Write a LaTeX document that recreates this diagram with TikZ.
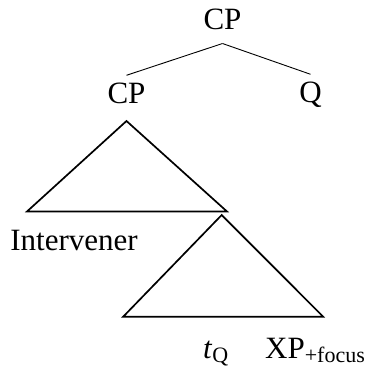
\documentclass[tikz,border=0pt]{standalone}
\usepackage{fontspec}
\setmainfont{Liberation Serif}
\usepackage{tikz}
\usetikzlibrary{calc}
\tikzset{
    lbl/.style={font=\fontsize{31bp}{36bp}\selectfont, inner sep=0pt, anchor=base},
    branch/.style={line width=0.9bp},
    tri/.style={line width=1.7bp, line join=miter}
}
\newcommand{\subtxt}[1]{\raisebox{-4bp}{\fontsize{22bp}{24bp}\selectfont #1}}

\begin{document}
\begin{tikzpicture}[x=1bp, y=-1bp]
                    \useasboundingbox (0,0) rectangle (368,370);
                    % Upper tree
                    \node[lbl] (cptop) at (222.5,29) {CP};
                    \node[lbl] (cplow) at (126.5,103) {CP};
                    \node[lbl] (q) at (310.5,102) {Q};
                    \draw[branch] ([yshift=-14bp]cptop.south) -- ([yshift=7bp]cplow.north);
                    \draw[branch] ([yshift=-14bp]cptop.south) -- ([yshift=7bp]q.north);

                    % Triangle under lower CP
                    \coordinate (apexA) at ([yshift=-18bp]cplow.base);
                    \draw[tri] (apexA) -- ++(-99.5,90.5) -- ++(200,0) -- cycle;
                    \node[lbl] (interv) at (74,250) {Intervener};

                    % Embedded triangle
                    \coordinate (apexB) at (221.7,215);
                    \draw[tri] (apexB) -- ++(-98.5,101.7) -- ++(200,0) -- cycle;
                    \node[lbl, anchor=base west] (trace) at (203,358) {\textit{t}\subtxt{Q}};
                    \node[lbl, anchor=base west] (xp) at (265,358) {XP\subtxt{+focus}};
                \end{tikzpicture}
\end{document}
